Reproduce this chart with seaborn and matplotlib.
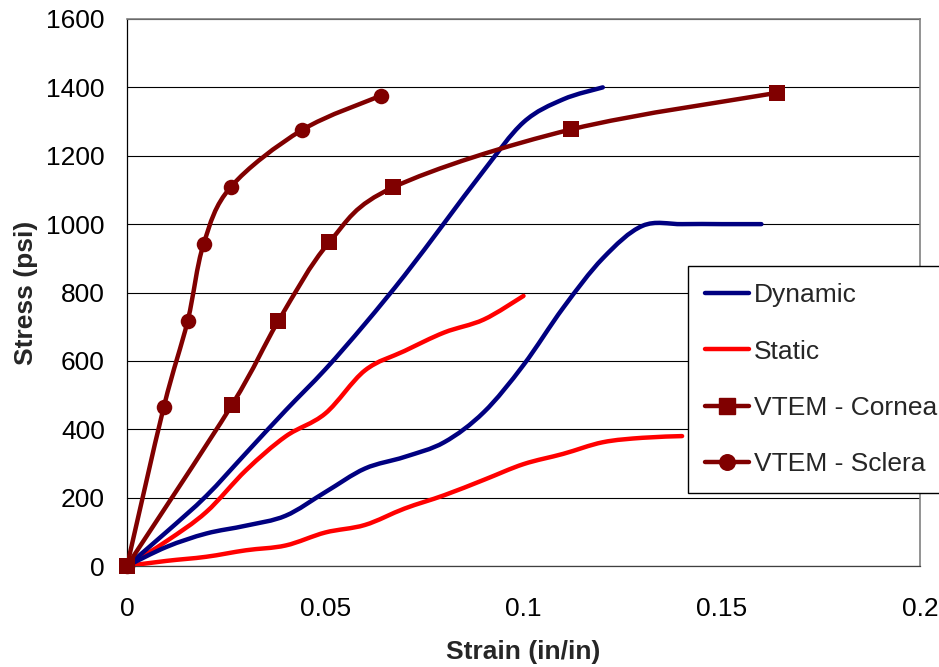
import numpy as np
import pandas as pd
import matplotlib
matplotlib.use("Agg")
import matplotlib.pyplot as plt
from matplotlib.path import Path
from matplotlib.patches import PathPatch
from matplotlib.lines import Line2D
import seaborn as sns

# Strain (in/in) and stress (psi) for each test series
dyn_fast_strain = [0.00, 0.01, 0.02, 0.03, 0.04, 0.05, 0.06, 0.07, 0.08, 0.09, 0.10, 0.11, 0.12]
dyn_fast_stress = [0, 100, 205, 330, 455, 575, 708, 850, 1003, 1157, 1298, 1365, 1400]

dyn_slow_strain = [0.00, 0.01, 0.02, 0.03, 0.04, 0.05, 0.06, 0.07, 0.08, 0.09, 0.10, 0.11,
                   0.12, 0.13, 0.14, 0.15, 0.16]
dyn_slow_stress = [0, 56, 95, 118, 147, 216, 285, 319, 362, 450, 588, 755,
                   900, 995, 1000, 1000, 1000]

sta_fast_strain = [0.00, 0.01, 0.02, 0.03, 0.04, 0.05, 0.06, 0.07, 0.08, 0.09, 0.10]
sta_fast_stress = [0, 73, 158, 280, 379, 446, 572, 629, 683, 721, 790]

sta_slow_strain = [0.00, 0.01, 0.02, 0.03, 0.04, 0.05, 0.06, 0.07, 0.08, 0.09, 0.10, 0.11,
                   0.12, 0.13, 0.14]
sta_slow_stress = [0, 15, 27, 46, 60, 98, 120, 168, 207, 252, 298, 328, 362, 375, 380]

cornea_strain = [0.0, 0.0264, 0.0382, 0.0510, 0.0672, 0.1120, 0.1639]
cornea_stress = [0, 470, 717, 947, 1108, 1277, 1384]

sclera_strain = [0.0, 0.0093, 0.0153, 0.0193, 0.0262, 0.0441, 0.0641]
sclera_stress = [0, 466, 717, 941, 1109, 1275, 1376]

x_ticks = [0, 0.05, 0.1, 0.15, 0.2]
x_tick_labels = ["0", "0.05", "0.1", "0.15", "0.2"]
y_ticks = [0, 200, 400, 600, 800, 1000, 1200, 1400, 1600]

NAVY = "#000080"
RED = "#FF0000"
MAROON = "#800000"
LW = 3.2

sns.set_theme(style="white")
plt.rcParams["font.family"] = ["Liberation Sans", "DejaVu Sans"]

fig = plt.figure(figsize=(9.39, 6.67), dpi=100)
ax = fig.add_axes([127 / 939, 1 - 566 / 667, (920 - 127) / 939, (566 - 19) / 667])


def smooth_path(xs, ys):
    """Bezier curve through the points (spreadsheet-style smoothed line)."""
    pts = np.column_stack([xs, ys]).astype(float)
    n = len(pts)
    verts = [pts[0]]
    codes = [Path.MOVETO]
    for i in range(n - 1):
        p0 = pts[max(i - 1, 0)]
        p1 = pts[i]
        p2 = pts[i + 1]
        p3 = pts[min(i + 2, n - 1)]
        verts += [p1 + (p2 - p0) / 6, p2 - (p3 - p1) / 6, p2]
        codes += [Path.CURVE4] * 3
    return Path(verts, codes)


def draw_curve(xs, ys, color, z=3):
    patch = PathPatch(smooth_path(xs, ys), facecolor="none", edgecolor=color,
                      lw=LW, capstyle="round", joinstyle="round",
                      transform=ax.transData, zorder=z)
    ax.add_patch(patch)


draw_curve(sta_slow_strain, sta_slow_stress, RED)
draw_curve(sta_fast_strain, sta_fast_stress, RED)
draw_curve(dyn_slow_strain, dyn_slow_stress, NAVY)
draw_curve(dyn_fast_strain, dyn_fast_stress, NAVY)
draw_curve(sclera_strain, sclera_stress, MAROON, z=4)
draw_curve(cornea_strain, cornea_stress, MAROON, z=4)

sclera_df = pd.DataFrame({"strain": sclera_strain, "stress": sclera_stress})
cornea_df = pd.DataFrame({"strain": cornea_strain, "stress": cornea_stress})
sns.scatterplot(data=sclera_df, x="strain", y="stress", marker="o", s=125,
                color=MAROON, edgecolor=MAROON, linewidth=0, ax=ax,
                zorder=5, clip_on=False)
sns.scatterplot(data=cornea_df, x="strain", y="stress", marker="s", s=140,
                color=MAROON, edgecolor=MAROON, linewidth=0, ax=ax,
                zorder=6, clip_on=False)

ax.set_xlim(0, 0.2)
ax.set_ylim(0, 1600)
ax.set_xticks(x_ticks)
ax.set_xticklabels(x_tick_labels)
ax.set_yticks(y_ticks)
ax.set_yticklabels([str(v) for v in y_ticks])

ax.yaxis.grid(True, color="black", lw=0.8)
ax.xaxis.grid(False)
ax.set_axisbelow(True)

for side in ["top", "right"]:
    ax.spines[side].set_color("#808080")
    ax.spines[side].set_linewidth(1.2)
ax.spines["left"].set_color("black")
ax.spines["left"].set_linewidth(0.9)
ax.spines["bottom"].set_color("#404040")
ax.spines["bottom"].set_linewidth(0.9)

ax.tick_params(axis="both", direction="out", length=6, width=0.8, color="black",
               labelsize=19, labelcolor="black")
ax.tick_params(axis="y", pad=10)
ax.tick_params(axis="x", pad=16)

ax.set_xlabel("Strain (in/in)", fontsize=19, fontweight="bold", labelpad=14)
ax.set_ylabel("Stress (psi)", fontsize=19, fontweight="bold", labelpad=6)

handles = [
    Line2D([], [], color=NAVY, lw=LW),
    Line2D([], [], color=RED, lw=LW),
    Line2D([], [], color=MAROON, lw=LW, marker="s", markersize=11.8),
    Line2D([], [], color=MAROON, lw=LW, marker="o", markersize=11.2),
]
labels = ["Dynamic", "Static", "VTEM - Cornea", "VTEM - Sclera"]
leg = fig.legend(handles, labels, loc="upper left",
                 bbox_to_anchor=(688 / 939, 1 - 266 / 667),
                 bbox_transform=fig.transFigure, borderaxespad=0,
                 fontsize=19, frameon=True, fancybox=False, shadow=False,
                 handlelength=1.65, handletextpad=0.2, labelspacing=1.22,
                 borderpad=0.66)
frame = leg.get_frame()
frame.set_edgecolor("black")
frame.set_linewidth(1.0)
frame.set_facecolor("white")
frame.set_alpha(1.0)

fig.savefig("out.png", dpi=100)
